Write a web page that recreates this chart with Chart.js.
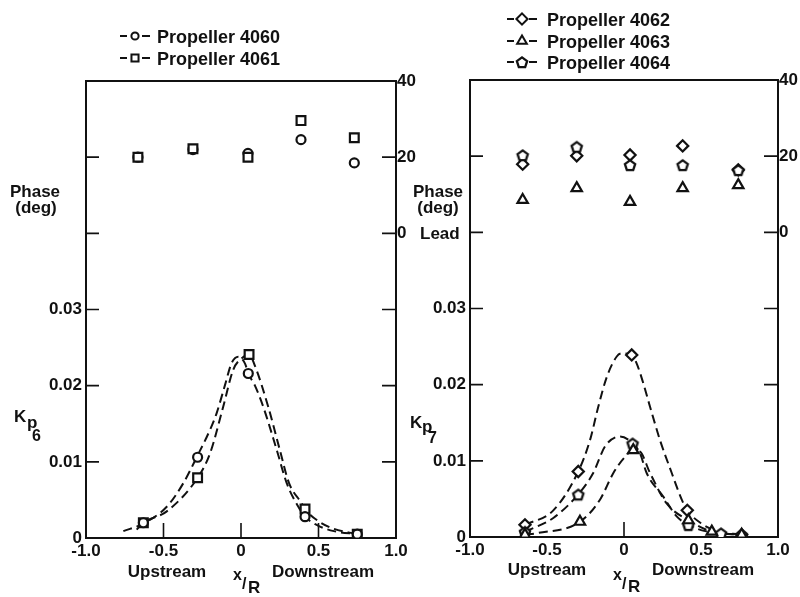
<!DOCTYPE html>
<html>
<head>
<meta charset="utf-8">
<script src="https://cdn.jsdelivr.net/npm/chart.js@4.4.1/dist/chart.umd.min.js"></script>
<style>
  html, body { margin: 0; padding: 0; background: #fff; width: 800px; height: 597px; overflow: hidden; }
  canvas { position: absolute; left: 0; top: 0; }
</style>
</head>
<body>
<canvas id="kp6" width="800" height="597"></canvas>
<canvas id="kp7" width="800" height="597"></canvas>
<script>
// ---------- Kp6 panel: propellers 4060 and 4061 ----------
const xStations4060 = [-0.63, -0.28, 0.047, 0.413, 0.75];
const kp4060 = [0.0020, 0.0106, 0.0216, 0.0028, 0.0005];
const xStations4061 = [-0.63, -0.28, 0.052, 0.413, 0.75];
const kp4061 = [0.0020, 0.0079, 0.0241, 0.0038, 0.0005];

const phaseStations6 = [-0.665, -0.31, 0.045, 0.387, 0.731];
const phase4060 = [20.0, 22.0, 21.0, 24.6, 18.5];
const phase4061 = [20.0, 22.2, 20.0, 29.6, 25.1];

// faired curves (dashed) through each propeller's points
const fairX4060 = [-0.759, -0.63, -0.479, -0.372, -0.286, -0.2, -0.157, -0.103, -0.06, -0.017, 0.026, 0.047, 0.09, 0.144, 0.23, 0.295, 0.37, 0.413, 0.5, 0.6, 0.75];
const fairY4060 = [0.0009, 0.0019, 0.0041, 0.0072, 0.0106, 0.0142, 0.0164, 0.0201, 0.0230, 0.0238, 0.0229, 0.0216, 0.0200, 0.0172, 0.0116, 0.0072, 0.0041, 0.0028, 0.0016, 0.0009, 0.0005];
const fairX4061 = [-0.673, -0.63, -0.479, -0.28, -0.2, -0.114, -0.05, 0.005, 0.052, 0.09, 0.176, 0.25, 0.31, 0.39, 0.413, 0.5, 0.6, 0.75];
const fairY4061 = [0.0011, 0.0020, 0.0035, 0.0079, 0.0111, 0.0173, 0.0221, 0.0236, 0.0241, 0.0226, 0.0172, 0.0116, 0.0072, 0.0046, 0.0038, 0.0022, 0.0012, 0.0005];

// ---------- Kp7 panel: propellers 4062, 4063 and 4064 ----------
const xStations4062 = [-0.643, -0.297, 0.05, 0.411, 0.764];
const kp4062 = [0.0016, 0.0086, 0.0239, 0.0035, 0.0003];
const xStations4063 = [-0.643, -0.286, 0.06, 0.418, 0.57, 0.764];
const kp4063 = [0.0003, 0.0020, 0.0114, 0.0022, 0.0007, 0.0003];
const xStations4064 = [-0.643, -0.297, 0.056, 0.418, 0.63, 0.764];
const kp4064 = [0.0007, 0.0056, 0.0123, 0.0016, 0.0005, 0.0003];

const phaseStations7 = [-0.658, -0.307, 0.039, 0.381, 0.742];
const phase4062 = [17.9, 20.1, 20.3, 22.7, 16.4];
const phase4063 = [8.5, 11.6, 8.0, 11.6, 12.4];
const phase4064 = [20.3, 22.5, 17.7, 17.7, 16.4];

const fairX4062 = [-0.643, -0.459, -0.297, -0.221, -0.167, -0.112, -0.047, -0.015, 0.05, 0.082, 0.125, 0.169, 0.234, 0.31, 0.375, 0.411, 0.5, 0.6, 0.764];
const fairY4062 = [0.0016, 0.0035, 0.0086, 0.0127, 0.0171, 0.0210, 0.0237, 0.0241, 0.0239, 0.0228, 0.0202, 0.0171, 0.0127, 0.0084, 0.0049, 0.0035, 0.0018, 0.0008, 0.0003];
const fairX4063 = [-0.643, -0.567, -0.286, -0.156, -0.069, 0.006, 0.06, 0.104, 0.169, 0.277, 0.418, 0.57, 0.764];
const fairY4063 = [0.0003, 0.0005, 0.0020, 0.0049, 0.0084, 0.0105, 0.0114, 0.0112, 0.0084, 0.0044, 0.0022, 0.0007, 0.0003];
const fairX4064 = [-0.643, -0.459, -0.297, -0.2, -0.123, -0.026, 0.056, 0.104, 0.147, 0.255, 0.342, 0.418, 0.52, 0.63, 0.764];
const fairY4064 = [0.0007, 0.0025, 0.0056, 0.0084, 0.0119, 0.0132, 0.0123, 0.0110, 0.0084, 0.0053, 0.0027, 0.0016, 0.0008, 0.0005, 0.0003];

// axis ranges: Kp on the left, phase in degrees on the right (shares the frame)
const kpRange = [0, 0.06];
const phaseRange = [-80, 40];
const xTickValues = [-1, -0.5, 0, 0.5, 1];

// ---------- drawing helpers ----------
const INK = '#111';
const FONT = '"Liberation Sans", Arial, sans-serif';

const pts = (xs, ys) => xs.map((x, i) => ({ x, y: ys[i] }));

function pentagonMark(r, lw) {
  const s = 2 * Math.ceil(r + lw / 2 + 1);
  const c = document.createElement('canvas');
  c.width = c.height = s;
  const g = c.getContext('2d');
  g.translate(s / 2, s / 2 + 0.8);
  g.beginPath();
  for (let k = 0; k < 5; k++) {
    const a = -Math.PI / 2 + k * 2 * Math.PI / 5;
    g.lineTo(r * Math.cos(a), r * Math.sin(a));
  }
  g.closePath();
  g.fillStyle = '#fff';
  g.fill();
  g.lineWidth = lw;
  g.strokeStyle = INK;
  g.stroke();
  return c;
}
const pentagon = pentagonMark(5.4, 2.3);

const MARKS = {
  circle:   { pointStyle: 'circle',   pointRadius: 4.5 },
  square:   { pointStyle: 'rect',     pointRadius: 6.2 },
  diamond:  { pointStyle: 'rectRot',  pointRadius: 5.6 },
  triangle: { pointStyle: 'triangle', pointRadius: 6 },
  pentagon: { pointStyle: pentagon,   pointRadius: 6 }
};

function markerSet(data, mark, axis) {
  return Object.assign({
    type: 'scatter', data, yAxisID: axis,
    pointBorderColor: INK, pointBackgroundColor: '#fff', pointBorderWidth: 2.2,
    showLine: false, order: 0
  }, MARKS[mark]);
}
function fairedCurve(data) {
  return {
    type: 'scatter', data, yAxisID: 'y', showLine: true,
    borderColor: INK, borderWidth: 2, borderDash: [9, 5],
    cubicInterpolationMode: 'monotone', pointRadius: 0, order: 1
  };
}

// inward tick marks and the top edge of the frame
const frameTicks = {
  id: 'frameTicks',
  afterDatasetsDraw(chart, args, o) {
    const { ctx, chartArea: a, scales } = chart;
    ctx.save();
    ctx.strokeStyle = INK;
    ctx.lineWidth = 1.6;
    ctx.beginPath();
    o.left.forEach(v => { const y = scales.y.getPixelForValue(v); ctx.moveTo(a.left, y); ctx.lineTo(a.left + 13, y); });
    o.right.forEach(v => { const y = scales.y.getPixelForValue(v); ctx.moveTo(a.right - 14, y); ctx.lineTo(a.right, y); });
    o.bottom.forEach(v => { const x = scales.x.getPixelForValue(v); ctx.moveTo(x, a.bottom); ctx.lineTo(x, a.bottom - 15); });
    ctx.stroke();
    ctx.lineWidth = 2;
    ctx.beginPath();
    ctx.moveTo(a.left - 1, a.top);
    ctx.lineTo(a.right + 1, a.top);
    ctx.stroke();
    ctx.restore();
  }
};

// axis captions and the propeller key
const captions = {
  id: 'captions',
  afterDraw(chart, args, o) {
    const { ctx } = chart;
    ctx.save();
    o.texts.forEach(t => {
      ctx.fillStyle = INK;
      ctx.font = `bold ${t.size || 17}px ${FONT}`;
      ctx.textAlign = t.align || 'left';
      ctx.textBaseline = 'alphabetic';
      ctx.fillText(t.text, t.x, t.y);
    });
    o.key.forEach(k => {
      ctx.strokeStyle = INK;
      ctx.lineWidth = 2;
      ctx.beginPath();
      ctx.moveTo(k.x - 15, k.y); ctx.lineTo(k.x - 8, k.y);
      ctx.moveTo(k.x + 7, k.y); ctx.lineTo(k.x + 15, k.y);
      ctx.stroke();
      ctx.fillStyle = '#fff';
      Chart.helpers.drawPoint(ctx, { pointStyle: MARKS[k.mark].pointStyle, radius: k.r, rotation: 0, borderWidth: 2 }, k.x, k.y);
      ctx.fillStyle = INK;
      ctx.font = `bold 18px ${FONT}`;
      ctx.textAlign = 'left';
      ctx.textBaseline = 'alphabetic';
      ctx.fillText(k.label, k.tx, k.y + 7);
    });
    ctx.restore();
  }
};

function kpLabel(v) {
  const r = Math.round(v * 100) / 100;
  if (r === 0) return '0';
  return r <= 0.03 ? r.toFixed(2) : '';
}
function phaseLabel(v) {
  return v >= 0 ? String(Math.round(v)) : '';
}
function xLabel(v) {
  return v === 0 ? '0' : v.toFixed(1);
}

function panelOptions(p) {
  const tickFont = { family: FONT, size: 17, weight: 'bold' };
  return {
    responsive: false,
    animation: false,
    devicePixelRatio: 1,
    events: [],
    layout: { padding: { top: p.top, left: 0, right: 0, bottom: 0 } },
    plugins: {
      legend: { display: false },
      tooltip: { enabled: false },
      frameTicks: { left: [0.01, 0.02, 0.03, 0.04, 0.05], right: [0.01, 0.02, 0.03, 0.04, 0.05], bottom: p.xTicks },
      captions: { texts: p.texts, key: p.key }
    },
    scales: {
      x: {
        type: 'linear', min: -1, max: 1,
        grid: { display: false, tickLength: 0 },
        border: { display: true, color: INK, width: 2 },
        afterBuildTicks: s => { s.ticks = xTickValues.map(v => ({ value: v })); },
        ticks: { autoSkip: false, maxRotation: 0, padding: 3, color: INK, font: tickFont, callback: xLabel },
        afterFit: s => { s.height = 597 - p.bottom; }
      },
      y: {
        position: 'left', min: kpRange[0], max: kpRange[1],
        grid: { display: false, tickLength: 0 },
        border: { display: true, color: INK, width: 2 },
        ticks: { stepSize: 0.01, autoSkip: false, padding: 4, color: INK, font: tickFont, callback: kpLabel },
        afterFit: s => { s.width = p.left; }
      },
      y2: {
        position: 'right', min: phaseRange[0], max: phaseRange[1],
        grid: { display: false, tickLength: 0 },
        border: { display: true, color: INK, width: 2 },
        ticks: { stepSize: 20, autoSkip: false, padding: 1, color: INK, font: tickFont, callback: phaseLabel },
        afterFit: s => { s.width = 800 - p.right; }
      }
    }
  };
}

// ---------- left panel ----------
new Chart(document.getElementById('kp6'), {
  type: 'scatter',
  plugins: [frameTicks, captions],
  data: {
    datasets: [
      fairedCurve(pts(fairX4060, fairY4060)),
      fairedCurve(pts(fairX4061, fairY4061)),
      markerSet(pts(xStations4060, kp4060), 'circle', 'y'),
      markerSet(pts(xStations4061, kp4061), 'square', 'y'),
      markerSet(pts(phaseStations6, phase4061), 'square', 'y2'),
      markerSet(pts(phaseStations6, phase4060), 'circle', 'y2')
    ]
  },
  options: panelOptions({
    top: 81, left: 86, right: 396, bottom: 538,
    xTicks: [-0.5, 0, 0.5],
    texts: [
      { text: 'Phase', x: 35, y: 197, align: 'center' },
      { text: '(deg)', x: 36, y: 213, align: 'center' },
      { text: 'K', x: 14, y: 422, size: 17 },
      { text: 'p', x: 27, y: 428, size: 17 },
      { text: '6', x: 32, y: 441, size: 16 },
      { text: 'Upstream', x: 167, y: 577, align: 'center' },
      { text: 'Downstream', x: 323, y: 577, align: 'center' },
      { text: 'x', x: 233, y: 580, size: 16 },
      { text: '/', x: 242, y: 589, size: 16 },
      { text: 'R', x: 248, y: 593, size: 17 }
    ],
    key: [
      { mark: 'circle', r: 3.6, x: 135, y: 36, tx: 157, label: 'Propeller 4060' },
      { mark: 'square', r: 5, x: 135, y: 58, tx: 157, label: 'Propeller 4061' }
    ]
  })
});

// ---------- right panel ----------
new Chart(document.getElementById('kp7'), {
  type: 'scatter',
  plugins: [frameTicks, captions],
  data: {
    datasets: [
      fairedCurve(pts(fairX4062, fairY4062)),
      fairedCurve(pts(fairX4063, fairY4063)),
      fairedCurve(pts(fairX4064, fairY4064)),
      markerSet(pts(xStations4063, kp4063), 'triangle', 'y'),
      markerSet(pts(xStations4064, kp4064), 'pentagon', 'y'),
      markerSet(pts(xStations4062, kp4062), 'diamond', 'y'),
      markerSet(pts(phaseStations7, phase4063), 'triangle', 'y2'),
      markerSet(pts(phaseStations7, phase4064), 'pentagon', 'y2'),
      markerSet(pts(phaseStations7, phase4062), 'diamond', 'y2')
    ]
  },
  options: panelOptions({
    top: 80, left: 470, right: 778, bottom: 537,
    xTicks: [0],
    texts: [
      { text: 'Phase', x: 438, y: 197, align: 'center' },
      { text: '(deg)', x: 438, y: 213, align: 'center' },
      { text: 'Lead', x: 420, y: 239 },
      { text: 'K', x: 410, y: 428, size: 17 },
      { text: 'p', x: 422, y: 432, size: 17 },
      { text: '7', x: 428, y: 443, size: 16 },
      { text: 'Upstream', x: 547, y: 575, align: 'center' },
      { text: 'Downstream', x: 703, y: 575, align: 'center' },
      { text: 'x', x: 613, y: 580, size: 16 },
      { text: '/', x: 622, y: 589, size: 16 },
      { text: 'R', x: 628, y: 592, size: 17 }
    ],
    key: [
      { mark: 'diamond', r: 5.6, x: 522, y: 19, tx: 547, label: 'Propeller 4062' },
      { mark: 'triangle', r: 5.6, x: 522, y: 41, tx: 547, label: 'Propeller 4063' },
      { mark: 'pentagon', r: 5.5, x: 522, y: 62, tx: 547, label: 'Propeller 4064' }
    ]
  })
});
</script>
</body>
</html>
